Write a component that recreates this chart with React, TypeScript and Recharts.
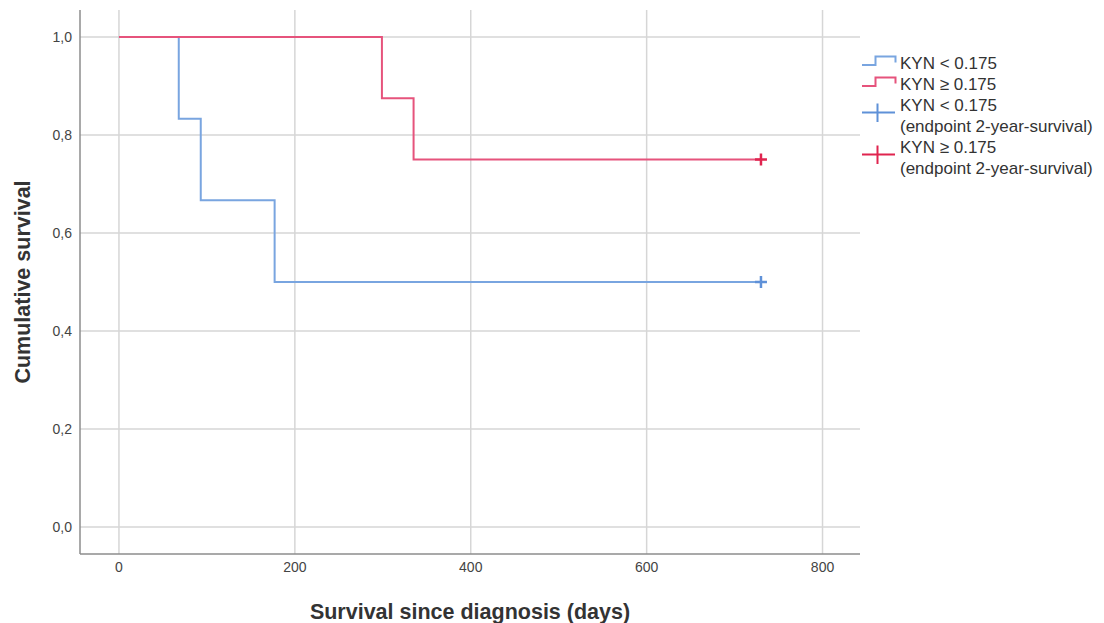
import { ComposedChart, Line, Scatter, XAxis, YAxis, CartesianGrid, Label } from 'recharts';

// Kaplan-Meier steps (days, cumulative survival)
const lowTimes = [0, 68, 93, 177, 730];
const lowSurvival = [1.0, 0.833, 0.667, 0.5, 0.5];
const highTimes = [0, 299, 335, 730];
const highSurvival = [1.0, 0.875, 0.75, 0.75];

// censored at the 2-year endpoint
const censorTimes = [730];
const lowCensored = [0.5];
const highCensored = [0.75];

const xTicks = [0, 200, 400, 600, 800];
const yTicks = [0, 0.2, 0.4, 0.6, 0.8, 1.0];

const legendLabels = ['KYN < 0.175', 'KYN ≥ 0.175', 'KYN < 0.175', 'KYN ≥ 0.175'];
const legendNote = '(endpoint 2-year-survival)';

const BLUE = '#79a5e0';
const RED = '#e6537c';
const BLUE_MARK = '#5f91d8';
const RED_MARK = '#e0244f';
const FONT = '"Liberation Sans", Arial, sans-serif';

const lowData = lowTimes.map((t, i) => ({ t, s: lowSurvival[i] }));
const highData = highTimes.map((t, i) => ({ t, s: highSurvival[i] }));
const lowCensorData = censorTimes.map((t, i) => ({ t, s: lowCensored[i] }));
const highCensorData = censorTimes.map((t, i) => ({ t, s: highCensored[i] }));

const plusShape = (color: string) => (props: any) => {
  const { cx, cy } = props;
  return (
    <path
      d={`M${cx - 6},${cy}H${cx + 6}M${cx},${cy - 6}V${cy + 6}`}
      stroke={color}
      strokeWidth={2.5}
      fill="none"
    />
  );
};

const StepIcon = ({ color }: { color: string }) => (
  <svg width={38} height={21} style={{ display: 'block', flex: 'none' }}>
    <path d="M0,12H13.5V3.5H33.5V9.5" stroke={color} strokeWidth={2} fill="none" />
  </svg>
);

const PlusIcon = ({ color }: { color: string }) => (
  <svg width={38} height={42} style={{ display: 'block', flex: 'none' }}>
    <path d="M0,17.5H33M15.5,8.5V27" stroke={color} strokeWidth={2} fill="none" />
  </svg>
);

function ChartLegend() {
  const text = { fontSize: 17, lineHeight: '21px', color: '#333', whiteSpace: 'nowrap' as const };
  return (
    <div style={{ position: 'absolute', left: 862, top: 52.5, fontFamily: FONT }}>
      <div style={{ display: 'flex' }}>
        <StepIcon color={BLUE} />
        <div style={text}>{legendLabels[0]}</div>
      </div>
      <div style={{ display: 'flex' }}>
        <StepIcon color={RED} />
        <div style={text}>{legendLabels[1]}</div>
      </div>
      <div style={{ display: 'flex' }}>
        <PlusIcon color={BLUE_MARK} />
        <div style={text}>
          <div>{legendLabels[2]}</div>
          <div>{legendNote}</div>
        </div>
      </div>
      <div style={{ display: 'flex' }}>
        <PlusIcon color={RED_MARK} />
        <div style={text}>
          <div>{legendLabels[3]}</div>
          <div>{legendNote}</div>
        </div>
      </div>
    </div>
  );
}

export default function App() {
  return (
    <div style={{ position: 'absolute', left: 0, top: 0, width: 1104, height: 623, background: '#fff', fontFamily: FONT }}>
      <ComposedChart width={1104} height={623} margin={{ top: 10, right: 244, left: 0, bottom: 0 }}>
        <CartesianGrid stroke="#d6d6d6" strokeWidth={1.5} horizontalValues={yTicks} verticalValues={xTicks} />
        <XAxis
          type="number"
          dataKey="t"
          domain={[-44.3, 842.6]}
          ticks={xTicks}
          allowDataOverflow
          height={69}
          tickLine={false}
          axisLine={{ stroke: '#8c8c8c', strokeWidth: 1.5 }}
          tick={{ fill: '#444', fontSize: 14, fontFamily: FONT }}
        >
          <Label
            content={() => (
              <text x={470} y={619} textAnchor="middle" fontSize={21.5} fontWeight="bold" fill="#333" fontFamily={FONT}>
                Survival since diagnosis (days)
              </text>
            )}
          />
        </XAxis>
        <YAxis
          type="number"
          domain={[-0.0551, 1.0551]}
          ticks={yTicks}
          allowDataOverflow
          width={80}
          tickLine={false}
          axisLine={{ stroke: '#8c8c8c', strokeWidth: 1.5 }}
          tick={{ fill: '#444', fontSize: 14, fontFamily: FONT }}
          tickFormatter={(v: number) => v.toFixed(1).replace('.', ',')}
        >
          <Label
            content={() => (
              <text
                transform="translate(30,282) rotate(-90)"
                textAnchor="middle"
                fontSize={21.5}
                fontWeight="bold"
                fill="#333"
                fontFamily={FONT}
              >
                Cumulative survival
              </text>
            )}
          />
        </YAxis>
        <Line
          data={lowData}
          dataKey="s"
          type="stepAfter"
          stroke={BLUE}
          strokeWidth={2}
          dot={false}
          activeDot={false}
          isAnimationActive={false}
        />
        <Line
          data={highData}
          dataKey="s"
          type="stepAfter"
          stroke={RED}
          strokeWidth={2}
          dot={false}
          activeDot={false}
          isAnimationActive={false}
        />
        <Scatter data={lowCensorData} dataKey="s" shape={plusShape(BLUE_MARK)} isAnimationActive={false} />
        <Scatter data={highCensorData} dataKey="s" shape={plusShape(RED_MARK)} isAnimationActive={false} />
      </ComposedChart>
      <ChartLegend />
    </div>
  );
}
